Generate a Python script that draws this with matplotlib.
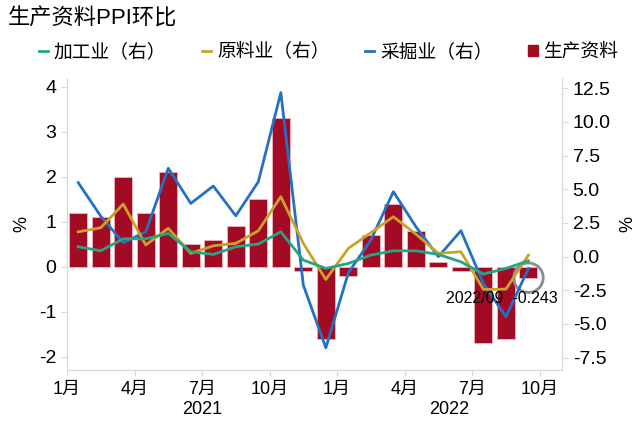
import matplotlib.pyplot as plt
import matplotlib.lines as mlines
import matplotlib.patches as mpatches
import numpy as np

plt.rcParams['font.family'] = ['Liberation Sans', 'Noto Sans CJK SC', 'DejaVu Sans']
plt.rcParams['axes.unicode_minus'] = False

# 月份：2021/01 - 2022/09
months = ['2021/01', '2021/02', '2021/03', '2021/04', '2021/05', '2021/06', '2021/07',
          '2021/08', '2021/09', '2021/10', '2021/11', '2021/12', '2022/01', '2022/02',
          '2022/03', '2022/04', '2022/05', '2022/06', '2022/07', '2022/08', '2022/09']

# 生产资料 PPI 环比（左轴，%）
shengchan = [1.2, 1.1, 2.0, 1.2, 2.1, 0.5, 0.6, 0.9, 1.5, 3.3, -0.1, -1.6,
             -0.2, 0.7, 1.4, 0.8, 0.1, -0.1, -1.7, -1.6, -0.243]
# 右轴
jiagong = [0.73, 0.43, 1.32, 1.32, 1.72, 0.36, 0.16, 0.73, 0.93, 1.84, -0.26, -0.88,
           -0.51, 0.11, 0.43, 0.43, 0.16, -0.39, -1.30, -0.88, -0.31]
yuanliao = [1.84, 2.14, 3.90, 0.86, 2.10, 0.24, 0.80, 0.98, 1.92, 4.45, 0.98, -1.70,
            0.61, 1.77, 2.96, 1.67, 0.24, 0.36, -2.44, -2.42, 0.11]
caijue = [5.49, 3.00, 1.03, 1.84, 6.56, 3.95, 5.24, 3.03, 5.56, 12.18, -2.12, -6.78,
          -1.20, 1.23, 4.82, 2.22, 0.00, 1.92, -2.00, -4.47, -0.88]

tick_pos = [-0.5, 2.5, 5.5, 8.5, 11.5, 14.5, 17.5, 20.5]
tick_labels = ['1月', '4月', '7月', '10月', '1月', '4月', '7月', '10月']
years = ['2021', '2022']
year_pos = [5.5, 16.5]

c_bar = '#A30B24'
c_green = '#25A584'
c_gold = '#C9A227'
c_blue = '#2470C2'
c_axis = '#D9D9D9'

fig = plt.figure(figsize=(6.44, 4.26), dpi=100)
ax = fig.add_axes([0.104, 0.131, 0.769, 0.686])
ax2 = ax.twinx()

x = np.arange(len(months))
ax.bar(x, shengchan, width=0.8, color=c_bar, edgecolor='#E8B8C0', linewidth=0.6, zorder=1)
ax2.plot(x, caijue, color=c_blue, lw=2, zorder=3)
ax2.plot(x, yuanliao, color=c_gold, lw=2, zorder=3)
ax2.plot(x, jiagong, color=c_green, lw=2, zorder=3)

ax.set_zorder(0)
ax2.set_zorder(1)

ax.set_xlim(-0.5, 21.5)
ax.set_ylim(-2.3, 4.2)
ax.set_yticks([-2, -1, 0, 1, 2, 3, 4])
ax2.set_ylim(-8.44, 13.27)
ax2.set_yticks([-7.5, -5, -2.5, 0, 2.5, 5, 7.5, 10, 12.5])
ax2.set_yticklabels(['-7.5', '-5.0', '-2.5', '0.0', '2.5', '5.0', '7.5', '10.0', '12.5'])

ax.set_xticks(tick_pos)
ax.set_xticklabels(tick_labels, fontsize=13)
for yr, p in zip(years, year_pos):
    ax.text(p, -0.105, yr, transform=ax.get_xaxis_transform(), ha='center', va='top', fontsize=13)

for a in (ax, ax2):
    a.spines['top'].set_visible(False)
    for s in ('left', 'right', 'bottom'):
        a.spines[s].set_color(c_axis)
    a.tick_params(colors=c_axis, labelcolor='black', labelsize=14, length=4)
ax.tick_params(axis='x', labelsize=13)

ax.set_ylabel('%', fontsize=13, labelpad=6)
ax2.set_ylabel('%', fontsize=13, labelpad=6)

# 标注最新值
last = len(months) - 1
ax.scatter([last], [shengchan[last]], s=450, facecolors='none', edgecolors='#8C8C8C', linewidths=2, zorder=5)
ax2.annotate(f'{months[last]}  {shengchan[last]}', xy=(last + 1.3, -0.7), xycoords=ax.transData,
             ha='right', va='center', fontsize=11.5, zorder=6)

fig.text(0.012, 0.955, '生产资料PPI环比', fontsize=16, va='center', ha='left')

handles = [mlines.Line2D([], [], color=c_green, lw=2),
           mlines.Line2D([], [], color=c_gold, lw=2),
           mlines.Line2D([], [], color=c_blue, lw=2),
           mpatches.Patch(color=c_bar)]
labels = ['加工业（右）', '原料业（右）', '采掘业（右）', '生产资料']
fig.legend(handles, labels, loc='center', bbox_to_anchor=(0.51, 0.878), ncol=4, frameon=False,
           fontsize=13.5, handlelength=0.5, handleheight=0.5, handletextpad=0.3, columnspacing=1.9)

fig.savefig('out.png', dpi=100)
